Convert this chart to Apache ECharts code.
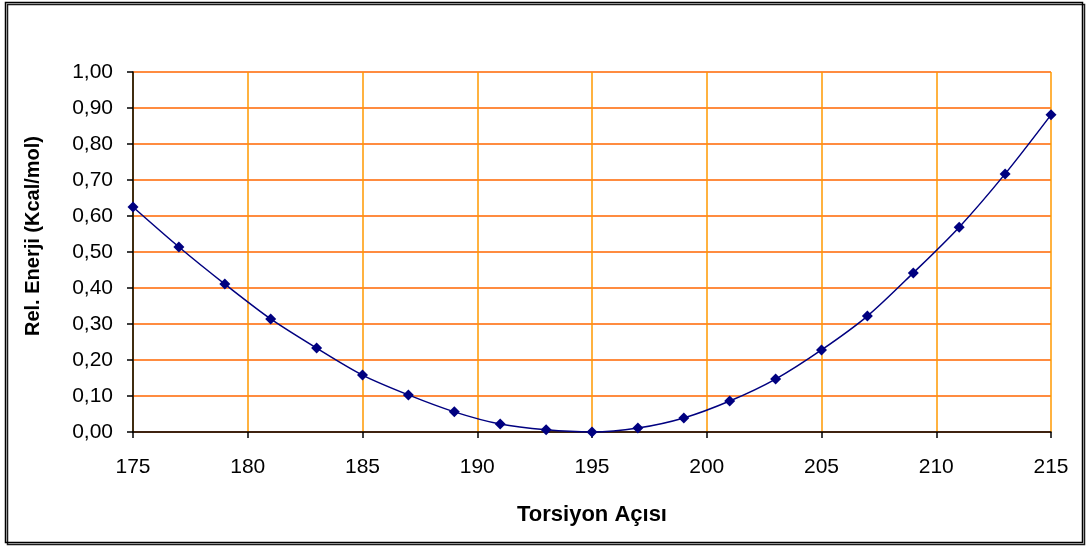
<!DOCTYPE html>
<html>
<head>
<meta charset="utf-8">
<script src="https://cdn.jsdelivr.net/npm/echarts@6/dist/echarts.min.js"></script>
<style>
  html, body { margin: 0; padding: 0; background: #fff; }
  #chart { width: 1086px; height: 547px; }
</style>
</head>
<body>
<div id="chart"></div>
<script>
// Torsion angle (degrees) and relative energy (kcal/mol)
const angles = [175, 177, 179, 181, 183, 185, 187, 189, 191, 193, 195, 197, 199, 201, 203, 205, 207, 209, 211, 213, 215];
const energies = [0.625, 0.514, 0.411, 0.314, 0.233, 0.158, 0.103, 0.056, 0.022, 0.006, 0.000, 0.011, 0.039, 0.086, 0.147, 0.228, 0.322, 0.442, 0.569, 0.717, 0.881];
const xTitle = 'Torsiyon Açısı';
const yTitle = 'Rel. Enerji (Kcal/mol)';

const points = angles.map((a, i) => [a, energies[i]]);
const font = '"Liberation Sans", Arial, sans-serif';

const chart = echarts.init(document.getElementById('chart'));
chart.setOption({
  animation: false,
  backgroundColor: '#ffffff',
  graphic: [{
    type: 'rect',
    shape: { x: 5.5, y: 2.5, width: 1077, height: 540 },
    style: { fill: 'none', stroke: '#000', lineWidth: 1.5, shadowColor: 'rgba(0,0,0,0.9)', shadowOffsetX: 2, shadowOffsetY: 2, shadowBlur: 0 },
    z: 100
  }],
  grid: { left: 133, right: 35, top: 72, bottom: 115 },
  xAxis: {
    type: 'value',
    min: 175, max: 215, interval: 5,
    name: xTitle,
    nameLocation: 'middle',
    nameGap: 72,
    nameTextStyle: { fontFamily: font, fontSize: 22, fontWeight: 'bold', color: '#000' },
    axisLine: { onZero: false, lineStyle: { color: '#000', width: 1.5 } },
    axisTick: { show: true, length: 6, lineStyle: { color: '#000', width: 1.5 } },
    axisLabel: { fontFamily: font, fontSize: 21, color: '#000', margin: 25 },
    splitLine: { show: true, lineStyle: { color: '#FF9900', width: 1.5 } }
  },
  yAxis: {
    type: 'value',
    min: 0, max: 1, interval: 0.1,
    name: yTitle,
    nameLocation: 'middle',
    nameGap: 90,
    nameTextStyle: { fontFamily: font, fontSize: 20, fontWeight: 'bold', color: '#000', padding: [0, 0, 0, 32] },
    axisLine: { show: true, lineStyle: { color: '#000', width: 1.5 } },
    axisTick: { show: true, length: 6, lineStyle: { color: '#000', width: 1.5 } },
    axisLabel: {
      fontFamily: font, fontSize: 21, color: '#000', margin: 20,
      formatter: v => v.toFixed(2).replace('.', ',')
    },
    splitLine: { show: true, lineStyle: { color: '#FF6600', width: 1.5 } }
  },
  series: [{
    type: 'line',
    data: points,
    smooth: 0.3,
    symbol: 'diamond',
    symbolSize: 11,
    itemStyle: { color: '#000080' },
    lineStyle: { color: '#000080', width: 1.5 },
    clip: false
  }]
});
</script>
</body>
</html>
